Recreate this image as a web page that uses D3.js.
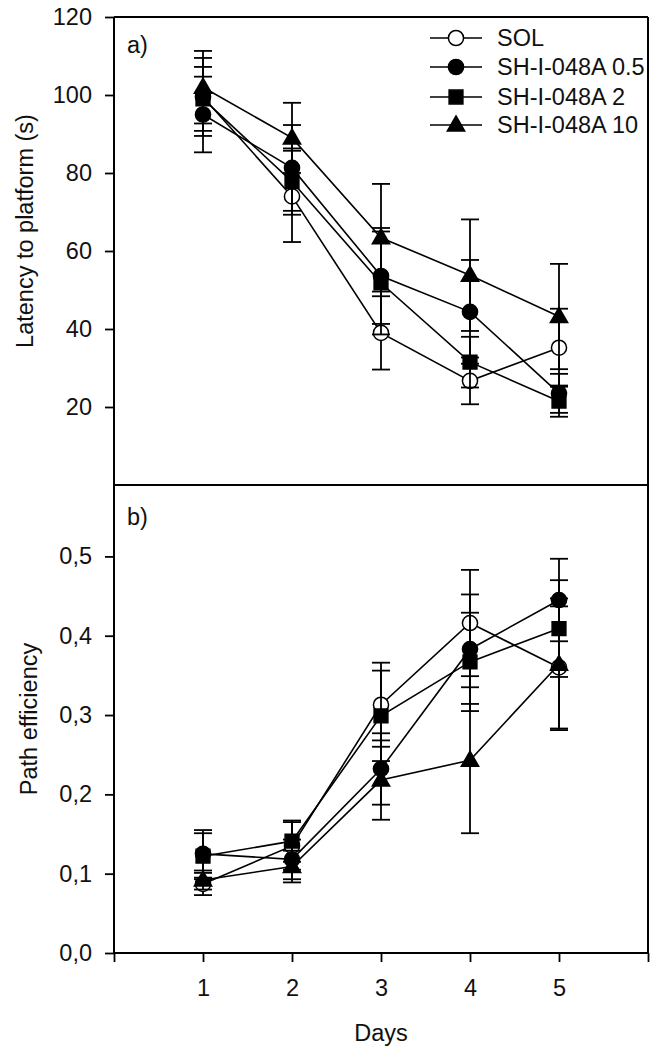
<!DOCTYPE html>
<html>
<head>
<meta charset="utf-8">
<script src="https://cdn.jsdelivr.net/npm/d3@7"></script>
<style>
	body { margin: 0; background: #fff; }
	svg text { font-family: "Liberation Sans", Arial, sans-serif; fill: #111; }
</style>
</head>
<body>
<div id="chart"></div>
<script>
// days on x
var days = [1, 2, 3, 4, 5];
var seriesNames = ["SOL", "SH-I-048A 0.5", "SH-I-048A 2", "SH-I-048A 10"];

// panel a) latency to platform (s), mean and sem
var latSol = [99.5, 74, 39, 26.7, 35.2];
var latSolErr = [10, 11.7, 9.4, 6, 10];
var latLow = [95, 81.3, 53.6, 44.4, 23.5];
var latLowErr = [9.7, 11, 12.3, 13.3, 5];
var latMid = [99, 77.8, 51.8, 31.5, 21.5];
var latMidErr = [8.2, 8.5, 13.2, 6.5, 4];
var latHigh = [102, 89, 63.4, 53.8, 43.2];
var latHighErr = [9.3, 9, 13.8, 14.3, 13.5];

// panel b) path efficiency, mean and sem
var effSol = [0.087, 0.135, 0.313, 0.416, 0.36];
var effSolErr = [0.014, 0.03, 0.053, 0.067, 0.077];
var effLow = [0.125, 0.118, 0.232, 0.383, 0.445];
var effLowErr = [0.03, 0.025, 0.045, 0.069, 0.052];
var effMid = [0.122, 0.141, 0.299, 0.367, 0.409];
var effMidErr = [0.029, 0.026, 0.057, 0.062, 0.061];
var effHigh = [0.092, 0.109, 0.218, 0.243, 0.364];
var effHighErr = [0.012, 0.02, 0.05, 0.092, 0.083];

var latTicks = [20, 40, 60, 80, 100, 120];
var effTicks = [0, 0.1, 0.2, 0.3, 0.4, 0.5];
var dayTicks = [0, 1, 2, 3, 4, 5, 6];

var width = 657, height = 1050;
var left = 114, right = 648;
var topA = 17, botA = 485, botB = 953;
var fs = 23.5;

var svg = d3.select("#chart").append("svg")
	.attr("width", width)
	.attr("height", height);

var x = d3.scaleLinear().domain([0, 6]).range([left, right]);
var yA = d3.scaleLinear().domain([0, 120]).range([botA, topA]);
var yB = d3.scaleLinear().domain([0, 0.59]).range([botB, botA]);

var shapes = [
	{ type: d3.symbolCircle, size: 180, fill: "#fff" },
	{ type: d3.symbolCircle, size: 180, fill: "#000" },
	{ type: d3.symbolSquare, size: 190, fill: "#000" },
	{ type: d3.symbolTriangle, size: 130, fill: "#000" }
];

function makeSeries (means, errs) {
	return means.map(function (m, i) {
		return days.map(function (d, j) {
			return { day: d, v: m[j], e: errs[i][j] };
		});
	});
}

var latSeries = makeSeries([latSol, latLow, latMid, latHigh],
	[latSolErr, latLowErr, latMidErr, latHighErr]);
var effSeries = makeSeries([effSol, effLow, effMid, effHigh],
	[effSolErr, effLowErr, effMidErr, effHighErr]);

function drawPanel (series, y) {
	var g = svg.append("g");
	var line = d3.line()
		.x(function (d) { return x(d.day); })
		.y(function (d) { return y(d.v); });
	series.forEach(function (s, i) {
		var sg = g.append("g");
		sg.append("path")
			.attr("d", line(s))
			.attr("fill", "none")
			.attr("stroke", "#000")
			.attr("stroke-width", 1.6);
		var eb = sg.selectAll(".eb").data(s).enter().append("g")
			.attr("stroke", "#000")
			.attr("stroke-width", 1.8);
		eb.append("line")
			.attr("x1", function (d) { return x(d.day); })
			.attr("x2", function (d) { return x(d.day); })
			.attr("y1", function (d) { return y(d.v + d.e); })
			.attr("y2", function (d) { return y(d.v - d.e); });
		[1, -1].forEach(function (sign) {
			eb.append("line")
				.attr("x1", function (d) { return x(d.day) - 9; })
				.attr("x2", function (d) { return x(d.day) + 9; })
				.attr("y1", function (d) { return y(d.v + sign * d.e); })
				.attr("y2", function (d) { return y(d.v + sign * d.e); });
		});
		sg.selectAll(".mk").data(s).enter().append("path")
			.attr("transform", function (d) {
				return "translate(" + x(d.day) + "," + (y(d.v) + (i === 3 ? 1 : 0)) + ")";
			})
			.attr("d", d3.symbol().type(shapes[i].type).size(shapes[i].size))
			.attr("fill", shapes[i].fill)
			.attr("stroke", "#000")
			.attr("stroke-width", 1.5);
	});
}

drawPanel(latSeries, yA);
drawPanel(effSeries, yB);

// axes
var fmtComma = function (v) { return d3.format(".1f")(v).replace(".", ","); };

var axA = svg.append("g")
	.attr("transform", "translate(" + left + ",0)")
	.call(d3.axisLeft(yA).tickValues(latTicks).tickSize(9).tickPadding(13).tickSizeOuter(0));
var axB = svg.append("g")
	.attr("transform", "translate(" + left + ",0)")
	.call(d3.axisLeft(yB).tickValues(effTicks).tickFormat(fmtComma).tickSize(9).tickPadding(13).tickSizeOuter(0));
var axX = svg.append("g")
	.attr("transform", "translate(0," + botB + ")")
	.call(d3.axisBottom(x).tickValues(dayTicks)
		.tickFormat(function (d) { return d >= 1 && d <= 5 ? d : ""; })
		.tickSize(9).tickPadding(17).tickSizeOuter(0));

[axA, axB, axX].forEach(function (ax) {
	ax.selectAll(".domain").remove();
	ax.selectAll(".tick line").attr("stroke", "#000").attr("stroke-width", 1.8);
	ax.selectAll("text")
		.attr("font-size", fs)
		.attr("font-family", "Liberation Sans, Arial, sans-serif")
		.attr("fill", "#111");
});

// frame lines
var frame = svg.append("g").attr("stroke", "#000").attr("stroke-width", 2).attr("fill", "none");
frame.append("line").attr("x1", left).attr("x2", left).attr("y1", topA).attr("y2", botB);
frame.append("line").attr("x1", right).attr("x2", right).attr("y1", topA).attr("y2", botB);
frame.append("line").attr("x1", left).attr("x2", right).attr("y1", topA).attr("y2", topA);
frame.append("line").attr("x1", left).attr("x2", right).attr("y1", botA).attr("y2", botA);
frame.append("line").attr("x1", left).attr("x2", right).attr("y1", botB).attr("y2", botB);

// panel letters
svg.append("text").attr("x", 127).attr("y", 53).attr("font-size", fs).text("a)");
svg.append("text").attr("x", 127).attr("y", 525).attr("font-size", fs).text("b)");

// axis titles
svg.append("text")
	.attr("transform", "translate(33," + ((topA + botA) / 2 - 20) + ") rotate(-90)")
	.attr("text-anchor", "middle")
	.attr("font-size", fs)
	.text("Latency to platform (s)");
svg.append("text")
	.attr("transform", "translate(37,719) rotate(-90)")
	.attr("text-anchor", "middle")
	.attr("font-size", fs)
	.text("Path efficiency");
svg.append("text")
	.attr("x", x(3))
	.attr("y", 1041)
	.attr("text-anchor", "middle")
	.attr("font-size", fs)
	.text("Days");

// legend
var legend = svg.append("g");
var rowY = [38, 67, 97, 125];
seriesNames.forEach(function (name, i) {
	var row = legend.append("g").attr("transform", "translate(0," + rowY[i] + ")");
	row.append("line")
		.attr("x1", 430).attr("x2", 482)
		.attr("y1", 0).attr("y2", 0)
		.attr("stroke", "#000").attr("stroke-width", 1.6);
	row.append("path")
		.attr("transform", "translate(456," + (i === 3 ? 1 : 0) + ")")
		.attr("d", d3.symbol().type(shapes[i].type).size(shapes[i].size))
		.attr("fill", shapes[i].fill)
		.attr("stroke", "#000")
		.attr("stroke-width", 1.5);
	row.append("text")
		.attr("x", 497)
		.attr("y", 8)
		.attr("font-size", fs)
		.text(name);
});
</script>
</body>
</html>
